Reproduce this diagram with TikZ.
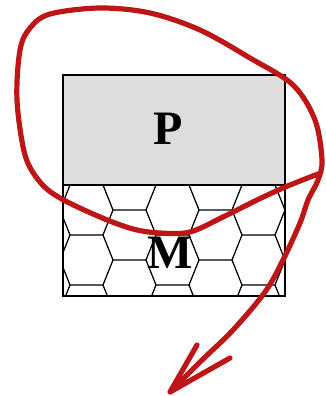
\documentclass[tikz,border=0pt]{standalone}
\usepackage{fontspec}
\setmainfont{Liberation Serif}
\definecolor{penred}{RGB}{190,22,22}
\definecolor{plategray}{RGB}{221,221,221}
\tikzset{
    layerbox/.style={rectangle, draw=black, line width=1.1pt, inner sep=0pt, minimum width=166.5pt, minimum height=82.5pt},
    letter/.style={font=\fontsize{36}{36}\selectfont\bfseries, inner sep=0pt},
    cellline/.style={line width=0.95pt},
    stroke/.style={draw=penred, line width=3.9pt, line cap=round, line join=round}
}

\begin{document}
\begin{tikzpicture}[x=0.75pt, y=-0.75pt]
    \useasboundingbox (0,0) rectangle (325,396);

    % the two layers
    \node[layerbox, fill=plategray] (pbox) at (174,130) {};
    \node[layerbox, minimum height=83.25pt] (mbox) at (174,240.5) {};

    % honeycomb inside M
    \begin{scope}
        \clip (mbox.north west) rectangle (mbox.south east);
        \foreach \k in {-1,...,3}
            \foreach \y in {185,235,285}
                \draw[cellline] ({60+86*\k},{\y-25}) -- ({70+86*\k},\y) -- ({60+86*\k},{\y+25})
                    ({70+86*\k},\y) -- ({103+86*\k},\y)
                    ({113+86*\k},{\y-25}) -- ({103+86*\k},\y) -- ({113+86*\k},{\y+25}) -- ({146+86*\k},{\y+25});
    \end{scope}
    \draw[line width=1.1pt] (mbox.north west) rectangle (mbox.south east);

    \node[letter] (P) at (168,129) {P};
    \node[letter] (M) at (170,253) {M};

    % hand drawn loop and arrow
    \coordinate (tip) at (170,392);
    \coordinate (barbl) at (197,345);
    \coordinate (barbr) at (230,358);
    \draw[stroke] plot[smooth, tension=0.55] coordinates {
        (318,174) (300,181) (283,188) (257,200) (223,217) (190,232) (160,233)
        (133,229) (100,217) (60,198) (40,182) (25,155) (17,100) (20,50)
        (30,28) (50,14) (100,8) (150,13) (200,30) (250,58) (293,85)
        (315,120) (322,160) (318,180) (308,200) (300,223) (283,260)
        (265,292) (233,330) (200,362) (tip)};
    \draw[stroke] (barbl) -- (tip) -- (barbr);
\end{tikzpicture}
\end{document}
